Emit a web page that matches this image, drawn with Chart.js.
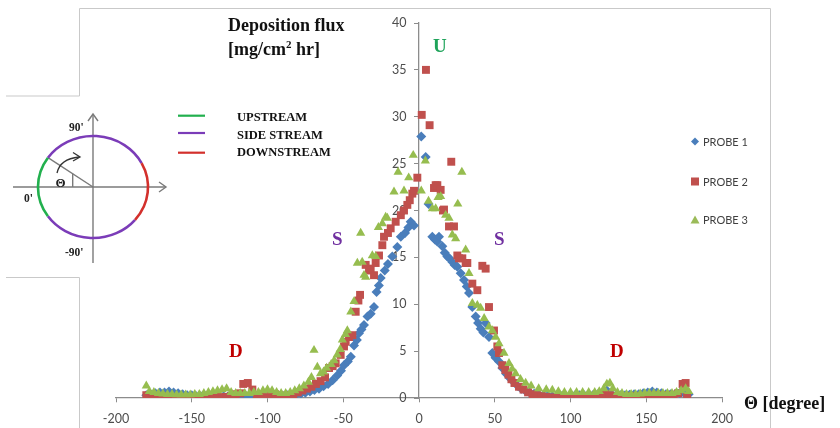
<!DOCTYPE html>
<html>
<head>
<meta charset="utf-8">
<script src="https://cdn.jsdelivr.net/npm/chart.js@4/dist/chart.umd.min.js"></script>
<style>
  html, body { margin: 0; padding: 0; background: #fff; }
  #wrap { position: relative; width: 840px; height: 428px; overflow: hidden; }
  #chart { position: absolute; left: 0; top: 0; }
  #overlay { position: absolute; left: 0; top: 0; pointer-events: none; }
  .ser { font-family: "Liberation Serif", "DejaVu Serif", serif; font-weight: bold; }
  .sans { font-family: Lato, "Liberation Sans", sans-serif; }
</style>
</head>
<body>
<div id="wrap">
  <canvas id="chart" width="840" height="428"></canvas>
  <svg id="overlay" width="840" height="428" viewBox="0 0 840 428">
    <!-- notched frame -->
    <polyline points="6,96 79.5,96 79.5,8.5 770.5,8.5 770.5,428" fill="none" stroke="#c9c9c9" stroke-width="1"/>
    <polyline points="6,277.5 79.5,277.5 79.5,428" fill="none" stroke="#c9c9c9" stroke-width="1"/>

    <!-- axis titles -->
    <text class="ser" x="228" y="31" font-size="18" fill="#111">Deposition flux</text>
    <text class="ser" x="228" y="55" font-size="18" fill="#111">[mg/cm<tspan font-size="11" dy="-7">2</tspan><tspan dy="7"> hr]</tspan></text>
    <text class="ser" x="744" y="409" font-size="18" fill="#111">Θ [degree]</text>

    <!-- region markers -->
    <text class="ser" x="433" y="52" font-size="19" fill="#1ea35a">U</text>
    <text class="ser" x="332" y="245" font-size="19" fill="#7030a0">S</text>
    <text class="ser" x="494" y="245" font-size="19" fill="#7030a0">S</text>
    <text class="ser" x="229" y="357" font-size="19" fill="#c00000">D</text>
    <text class="ser" x="610" y="357" font-size="19" fill="#c00000">D</text>

    <!-- inset: flow direction diagram -->
    <g stroke="#7a7a7a" stroke-width="1.4" fill="none">
      <line x1="13" y1="187" x2="166" y2="187"/>
      <polyline points="159,182 166,187 159,192"/>
      <line x1="93" y1="263" x2="93" y2="114"/>
      <polyline points="88,121 93,114 98,121"/>
      <line x1="93" y1="187" x2="48" y2="157.7"/>
      <line x1="72.7" y1="173.8" x2="72.7" y2="187"/>
    </g>
    <g stroke="#333" stroke-width="1.3" fill="none">
      <path d="M57 173 Q60 159 79 157"/>
      <polyline points="73,152.5 80,157 73,161"/>
    </g>
    <g fill="none" stroke-width="2.6">
      <path d="M47.95 157.7 A55 51 0 0 0 47.95 216.3" stroke="#22b04e"/>
      <path d="M141.6 163.1 A55 51 0 0 0 47.95 157.7" stroke="#7b3cb8"/>
      <path d="M47.95 216.3 A55 51 0 0 0 135.1 219.8" stroke="#7b3cb8"/>
      <path d="M135.1 219.8 A55 51 0 0 0 141.6 163.1" stroke="#d3302c"/>
    </g>
    <text class="ser" x="55.5" y="187" font-size="13" fill="#222">Θ</text>
    <text class="ser" x="69" y="131" font-size="11.5" fill="#222">90'</text>
    <text class="ser" x="24" y="202" font-size="11.5" fill="#222">0'</text>
    <text class="ser" x="65" y="256" font-size="11.5" fill="#222">-90'</text>

    <!-- inset legend -->
    <line x1="178" y1="115.7" x2="205" y2="115.7" stroke="#22b04e" stroke-width="2.2"/>
    <line x1="178" y1="133" x2="205" y2="133" stroke="#7b3cb8" stroke-width="2.2"/>
    <line x1="178" y1="152.7" x2="205" y2="152.7" stroke="#d3302c" stroke-width="2.2"/>
    <text class="ser" x="237" y="121" font-size="12.5" fill="#111">UPSTREAM</text>
    <text class="ser" x="237" y="138.5" font-size="12.5" fill="#111">SIDE STREAM</text>
    <text class="ser" x="237" y="156" font-size="12.5" fill="#111">DOWNSTREAM</text>

    <!-- series legend -->
    <polygon points="695,137.5 699,141.5 695,145.5 691,141.5" fill="#4a7ebb"/>
    <rect x="691" y="177.5" width="8" height="8" fill="#c0504d"/>
    <polygon points="695,215.5 699.5,223.5 690.5,223.5" fill="#9bbb59"/>
    <text class="sans" x="703" y="145.5" font-size="11" fill="#404040">PROBE 1</text>
    <text class="sans" x="703" y="185.5" font-size="11" fill="#404040">PROBE 2</text>
    <text class="sans" x="703" y="224" font-size="11" fill="#404040">PROBE 3</text>
  </svg>
</div>
<script>
// angle of the probe position [degree] and deposition flux [mg/cm2 hr]
const p1Angle = [-180, -177, -174, -171, -168, -165, -162, -159, -156, -153, -150, -147, -144, -141, -138, -135, -132, -129, -126, -123,
  -120, -117, -114, -111, -108, -105, -102, -99, -96, -93, -90, -87, -84, -81, -78, -75, -72, -69, -66, -63,
  -60, -57, -54, -51.5, -49.5, -47, -45, -42.9, -41, -39.6, -38, -36.3, -34, -31.9, -29.7, -28, -26.5, -25.3, -22.6, -20.5,
  -17.6, -14.3, -12, -9.2, -7, -5.5, -3.3, 1.5, 4.4, 6.3, 8.8, 10.5, 12, 13.2, 15.4, 17, 18.7, 20, 22, 23.5,
  25.3, 27.5, 29.7, 31.5, 33, 35.2, 37.4, 39, 40.7, 42.5, 44, 46.2, 48.4, 50.5, 52.8, 55, 57.5, 60, 62.5, 65,
  67.5, 70, 73, 76, 79, 82, 85, 88, 91, 94, 97, 100, 103, 106, 109, 112, 115, 118, 121, 124,
  127, 130, 133, 136, 139, 142, 145, 148, 151, 154, 157, 160, 163, 166, 169, 172, 175, 178];
const p1Flux = [0.3, 0.4, 0.5, 0.6, 0.6, 0.7, 0.6, 0.5, 0.4, 0.3, 0.3, 0.2, 0.2, 0.2, 0.2, 0.2, 0.2, 0.2, 0.2, 0.2,
  0.2, 0.2, 0.2, 0.2, 0.2, 0.2, 0.2, 0.2, 0.2, 0.2, 0.25, 0.3, 0.3, 0.35, 0.45, 0.55, 0.7, 0.85, 1.0, 1.25,
  1.5, 1.9, 2.4, 2.9, 3.5, 3.9, 4.4, 5.6, 6.2, 6.9, 7.3, 7.8, 8.7, 9.0, 9.7, 11.3, 12.0, 12.8, 13.6, 14.3,
  15.1, 16.1, 17.2, 17.6, 18.2, 18.8, 18.4, 27.9, 25.7, 20.7, 17.2, 16.9, 16.7, 17.2, 16.2, 15.5, 15.1, 14.9, 14.5, 14.2,
  14.0, 13.3, 12.6, 11.9, 11.2, 9.7, 8.7, 8.0, 7.4, 7.0, 8.0, 6.5, 4.8, 4.3, 3.9, 3.2, 2.6, 2.1, 1.7, 1.3,
  1.0, 0.8, 0.6, 0.45, 0.35, 0.3, 0.25, 0.2, 0.2, 0.2, 0.2, 0.25, 0.3, 0.3, 0.3, 0.35, 0.35, 0.4, 0.5, 0.8,
  0.4, 0.3, 0.3, 0.3, 0.35, 0.4, 0.4, 0.5, 0.6, 0.7, 0.6, 0.5, 0.4, 0.4, 0.4, 0.5, 0.5, 0.4];

const p2Angle = [-180, -178, -175, -172, -169, -166, -163, -160, -157, -154, -151, -148, -145, -142, -139, -136, -133, -130, -127, -124,
  -121, -118, -116, -113, -110, -107, -104, -101, -98, -95, -92, -89, -86, -83, -80, -77, -74, -71, -68, -65,
  -62, -59.4, -57, -55, -51.7, -49.5, -48.4, -46.2, -44, -41.8, -40, -38.9, -35.2, -33, -31.9, -29.7, -28.6, -26.4, -24.2, -23.1,
  -20.5, -18.7, -15.4, -12, -9.9, -7.7, -6.1, -4.4, -3.3, -1.1, 1.8, 4.6, 7, 9.9, 11, 12.1, 14.3, 15.8, 16.5, 19.8,
  21.3, 23.1, 25.3, 26.4, 28.6, 30.8, 31.9, 35.2, 38.5, 41.8, 44, 46.2, 49.5, 51.7, 52.8, 55, 57, 59, 61, 63,
  66, 69, 72, 75, 78, 81, 84, 87, 90, 93, 96, 99, 102, 105, 108, 111, 114, 117, 120, 123,
  126, 129, 132, 135, 138, 141, 144, 147, 150, 153, 156, 159, 162, 165, 168, 171, 174, 176, 177];
const p2Flux = [0.3, 0.0, 0.1, 0.1, 0.15, 0.15, 0.1, 0.1, 0.05, 0.05, 0.05, 0.05, 0.05, 0.1, 0.2, 0.3, 0.2, 0.1, 0.1, 0.2,
  0.4, 0.5, 1.5, 1.6, 0.9, 0.3, 0.1, 0.1, 0.2, 0.4, 0.3, 0.2, 0.3, 0.4, 0.6, 0.8, 1.0, 1.2, 1.5, 1.8,
  2.2, 3.2, 3.4, 3.7, 4.6, 5.5, 6.0, 6.5, 6.7, 9.2, 10.4, 11.0, 14.2, 13.6, 13.8, 13.1, 14.4, 15.2, 16.3, 17.2,
  17.6, 18.1, 18.8, 19.5, 20.0, 20.6, 21.1, 21.8, 22.1, 23.5, 30.2, 35.0, 29.1, 22.4, 22.7, 22.7, 22.2, 20.0, 20.1, 18.3,
  25.2, 18.3, 15.2, 14.9, 14.9, 14.4, 14.4, 12.2, 11.5, 14.1, 13.8, 9.7, 7.2, 5.5, 4.8, 3.5, 3.0, 2.5, 2.0, 1.6,
  1.2, 0.9, 0.6, 0.4, 0.3, 0.2, 0.1, 0.05, 0.05, 0.05, 0.1, 0.1, 0.1, 0.15, 0.2, 0.2, 0.2, 0.3, 0.3, 0.4,
  0.3, 0.2, 0.2, 0.1, 0.2, 0.2, 0.2, 0.2, 0.2, 0.25, 0.3, 0.3, 0.3, 0.3, 0.35, 0.5, 1.5, 1.6, 0.2];

const p3Angle = [-180, -178, -175, -172, -169, -166, -163, -160, -157, -154, -151, -148, -145, -142, -139, -136, -133, -130, -127, -124,
  -121, -118, -115, -112, -109, -106, -103, -100, -97, -94, -91, -88, -85, -82, -79, -76, -73, -71, -69.3, -67.1,
  -65, -63, -61, -58, -56, -54, -52, -50.6, -48.5, -47.3, -45, -42.9, -40.7, -38.5, -37.5, -36.3, -35.2, -30.8, -28.6, -26.8,
  -24.2, -22, -20.9, -16.5, -13.8, -9.9, -6.8, -3.8, 1.5, 4.2, 6.3, 8.8, 11, 12.6, 14.3, 17.6, 19.8, 22, 24.2, 25.6,
  28.3, 30.8, 33, 35.2, 38.5, 40.7, 43, 46.2, 48.4, 50.6, 52.8, 56.1, 59.4, 61.5, 63.8, 67, 70.4, 74, 79, 84,
  88, 92, 96, 100, 104, 108, 112, 116, 119, 122, 124, 126, 128, 131, 134, 137, 140, 143, 146, 149,
  152, 155, 158, 161, 164, 167, 170, 173, 176, 178];
const p3Flux = [1.3, 0.7, 0.6, 0.5, 0.45, 0.4, 0.4, 0.35, 0.35, 0.35, 0.35, 0.4, 0.4, 0.5, 0.6, 0.7, 0.8, 0.9, 1.0, 0.6,
  0.5, 0.5, 0.5, 0.5, 0.6, 0.6, 0.8, 0.9, 0.8, 0.6, 0.5, 0.5, 0.6, 0.8, 1.0, 1.3, 1.7, 2.2, 5.1, 3.3,
  2.6, 2.8, 3.2, 3.6, 4.0, 4.6, 5.2, 6.2, 6.8, 7.2, 9.2, 10.3, 14.4, 17.6, 14.5, 13.1, 12.9, 15.2, 15.1, 18.2,
  18.6, 19.3, 19.2, 22.0, 24.1, 22.1, 23.5, 25.9, 22.1, 25.3, 21.0, 20.2, 20.2, 21.4, 21.5, 19.5, 19.2, 17.4, 17.0, 20.7,
  24.1, 15.8, 13.3, 10.1, 9.9, 9.6, 8.5, 7.6, 7.2, 6.5, 5.8, 4.8, 3.7, 3.1, 2.6, 2.0, 1.6, 1.3, 1.0, 0.9,
  0.85, 0.7, 0.6, 0.6, 0.6, 0.6, 0.6, 0.6, 0.7, 1.0, 1.5, 1.6, 1.0, 0.6, 0.5, 0.4, 0.4, 0.4, 0.45, 0.5,
  0.5, 0.5, 0.5, 0.5, 0.5, 0.5, 0.6, 0.8, 1.0, 0.7];

const xTicks = [-200, -150, -100, -50, 0, 50, 100, 150, 200];

const toPoints = (angles, flux) => angles.map((a, i) => ({ x: a, y: flux[i] }));
const axisGray = '#8c8c8c';

new Chart(document.getElementById('chart'), {
  type: 'scatter',
  data: {
    datasets: [
      { label: 'PROBE 1', data: toPoints(p1Angle, p1Flux), pointStyle: 'rectRot', pointRadius: 5,
        backgroundColor: '#4a7ebb', borderColor: '#4a7ebb', borderWidth: 0, order: 3 },
      { label: 'PROBE 2', data: toPoints(p2Angle, p2Flux), pointStyle: 'rect', pointRadius: 5.6,
        backgroundColor: '#c0504d', borderColor: '#c0504d', borderWidth: 0, order: 2 },
      { label: 'PROBE 3', data: toPoints(p3Angle, p3Flux), pointStyle: 'triangle', pointRadius: 5.3,
        backgroundColor: '#96bd4f', borderColor: '#96bd4f', borderWidth: 0, order: 1 }
    ]
  },
  options: {
    responsive: false,
    animation: false,
    events: [],
    layout: { padding: { left: 116, right: 118, top: 23, bottom: 30 } },
    plugins: { legend: { display: false }, tooltip: { enabled: false } },
    scales: {
      x: {
        type: 'linear', min: -200, max: 200, position: { y: 0 },
        afterBuildTicks: (s) => { s.ticks = xTicks.map(v => ({ value: v })); },
        afterFit: (s) => { s.height = 0; },
        ticks: { color: '#4d4d4d', padding: 9, font: { family: 'Lato', size: 12.5 } },
        grid: { drawOnChartArea: false, drawTicks: true, tickLength: 4, color: axisGray },
        border: { color: axisGray, width: 1.3 }
      },
      y: {
        type: 'linear', min: 0, max: 40, position: { x: 0 },
        // labels sit right-aligned on the centred axis, so push them left with two en spaces
        ticks: { stepSize: 5, color: '#4d4d4d', font: { family: 'Lato', size: 12.5 },
          callback: (v) => v + '\u2002\u2002' },
        afterFit: (s) => { s.width = 0; },
        grid: { drawOnChartArea: false, drawTicks: true, tickLength: 4, color: axisGray },
        border: { color: axisGray, width: 1.3 }
      }
    }
  }
});
</script>
</body>
</html>
